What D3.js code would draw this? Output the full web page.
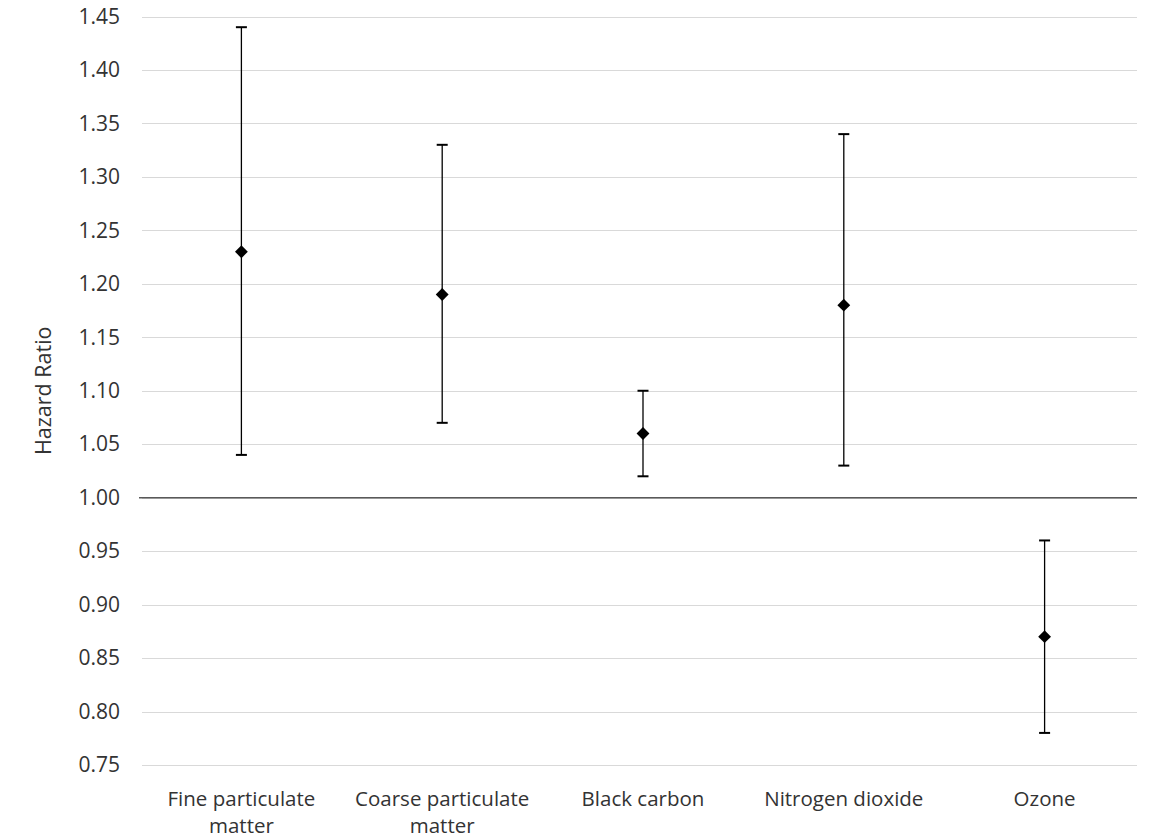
<!DOCTYPE html>
<html>
<head>
<meta charset="utf-8">
<script src="https://cdn.jsdelivr.net/npm/d3@7"></script>
<style>
  body { margin: 0; background: #fff; }
  text { font-family: "Open Sans", "Noto Sans", sans-serif; fill: #333; }
</style>
</head>
<body>
<svg width="1149" height="840"></svg>
<script>
const categories = ['Fine particulate matter', 'Coarse particulate matter', 'Black carbon', 'Nitrogen dioxide', 'Ozone']
const hazardRatio = [1.23, 1.19, 1.06, 1.18, 0.87]
const lowerCI = [1.04, 1.07, 1.02, 1.03, 0.78]
const upperCI = [1.44, 1.33, 1.10, 1.34, 0.96]
const yTicks = [0.75, 0.80, 0.85, 0.90, 0.95, 1.00, 1.05, 1.10, 1.15, 1.20, 1.25, 1.30, 1.35, 1.40, 1.45]

const labelLines = [['Fine particulate', 'matter'], ['Coarse particulate', 'matter'], ['Black carbon'], ['Nitrogen dioxide'], ['Ozone']]

const svg = d3.select('svg')

const x = d3.scaleBand()
  .domain(categories)
  .range([141, 1145])

const y = d3.scaleLinear()
  .domain([0.75, 1.45])
  .range([765, 16.5])

const rows = categories.map((c, i) => ({
  cat: c, hr: hazardRatio[i], lo: lowerCI[i], hi: upperCI[i], lines: labelLines[i]
}))

// gridlines
svg.append('g')
  .selectAll('line')
  .data(yTicks)
  .enter().append('line')
    .attr('x1', 142)
    .attr('x2', 1137)
    .attr('y1', d => Math.round(y(d)) + 0.5)
    .attr('y2', d => Math.round(y(d)) + 0.5)
    .attr('stroke', '#d9d9d9')
    .attr('stroke-width', 1)

// y tick labels
const yAxis = d3.axisLeft(y)
  .tickValues(yTicks)
  .tickFormat(d3.format('.2f'))
  .tickSize(0)
  .tickPadding(0)

svg.append('g')
  .attr('transform', 'translate(120,0)')
  .call(yAxis)
  .call(g => g.select('.domain').remove())
  .call(g => g.selectAll('text')
    .attr('font-size', 21)
    .attr('fill', '#333')
    .attr('font-family', '"Open Sans", sans-serif'))

// horizontal axis at 1.00
svg.append('line')
  .attr('x1', 139)
  .attr('x2', 1137)
  .attr('y1', y(1))
  .attr('y2', y(1))
  .attr('stroke', '#595959')
  .attr('stroke-width', 1.5)

// y axis title
svg.append('text')
  .attr('transform', `translate(51,${y(1.1)}) rotate(-90)`)
  .attr('text-anchor', 'middle')
  .attr('font-size', 21.5)
  .text('Hazard Ratio')

const cx = d => x(d.cat) + x.bandwidth() / 2

// error bars
const bars = svg.append('g')
  .selectAll('g')
  .data(rows)
  .enter().append('g')

bars.append('line')
  .attr('x1', cx).attr('x2', cx)
  .attr('y1', d => y(d.lo)).attr('y2', d => y(d.hi))
  .attr('stroke', '#000')
  .attr('stroke-width', 1.3)

bars.selectAll('.cap')
  .data(d => [d.lo, d.hi].map(v => ({ x: cx(d), v })))
  .enter().append('line')
    .attr('class', 'cap')
    .attr('x1', d => d.x - 5.5).attr('x2', d => d.x + 5.5)
    .attr('y1', d => y(d.v)).attr('y2', d => y(d.v))
    .attr('stroke', '#000')
    .attr('stroke-width', 2)

// markers
svg.append('g')
  .selectAll('path')
  .data(rows)
  .enter().append('path')
    .attr('d', d3.symbol(d3.symbolDiamond2, 105))
    .attr('transform', d => `translate(${cx(d)},${y(d.hr)})`)
    .attr('fill', '#000')

// category labels
const catLabel = svg.append('g')
  .selectAll('text')
  .data(rows)
  .enter().append('text')
    .attr('x', cx)
    .attr('y', 806)
    .attr('text-anchor', 'middle')
    .attr('font-size', 20.5)

catLabel.selectAll('tspan')
  .data(d => d.lines)
  .enter().append('tspan')
    .attr('x', function () { return d3.select(this.parentNode).attr('x') })
    .attr('dy', (d, i) => i === 0 ? 0 : 27)
    .text(d => d)
</script>
</body>
</html>
